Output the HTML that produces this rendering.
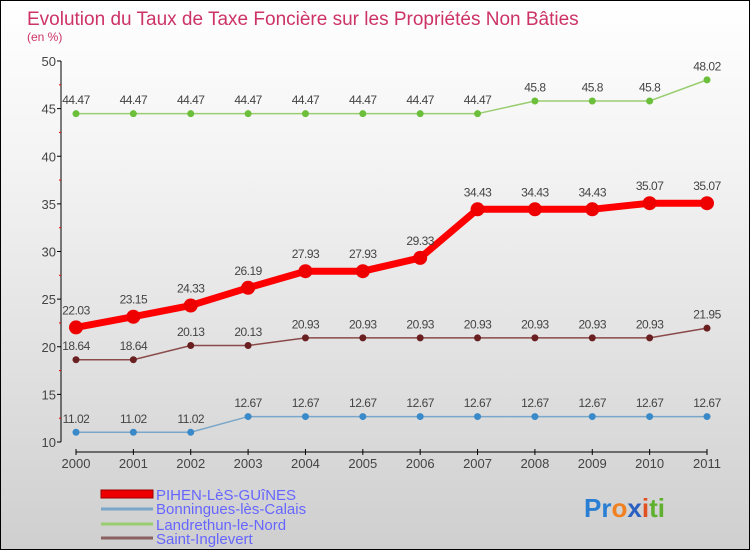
<!DOCTYPE html>
<html><head><meta charset="utf-8"><style>
body{margin:0}
#c{width:748px;height:548px;border:1px solid #000;background:linear-gradient(#fff,#f3f3f3 30%,#cfcfcf);position:relative;font-family:"Liberation Sans",sans-serif}
</style></head><body>
<div id="c">
<svg id="s" width="748" height="548" style="position:absolute;left:0;top:0" font-family="Liberation Sans, sans-serif">
<text x="26" y="24" font-size="19" fill="#cc3366">Evolution du Taux de Taxe Foncière sur les Propriétés Non Bâties</text>
<text x="26" y="40" font-size="12" fill="#cc3366">(en %)</text>
<g id="axes"></g><g id="series"></g>
<g>
<rect x="100" y="489" width="52" height="8" fill="#e00" stroke="#900" stroke-width="1"/>
<text x="155" y="499" font-size="15" fill="#6666ff">PIHEN-LèS-GUîNES</text>
<line x1="100" y1="508" x2="152" y2="508" stroke="#79a6c9" stroke-width="3"/>
<text x="155" y="513" font-size="15" fill="#6666ff">Bonningues-lès-Calais</text>
<line x1="100" y1="523" x2="152" y2="523" stroke="#9acd70" stroke-width="3"/>
<text x="155" y="529" font-size="15" fill="#6666ff">Landrethun-le-Nord</text>
<line x1="100" y1="537" x2="152" y2="537" stroke="#8a6060" stroke-width="3"/>
<text x="155" y="543" font-size="15" fill="#6666ff">Saint-Inglevert</text>
</g>
<text x="583" y="516" font-size="26" font-weight="bold"><tspan fill="#2a7fd4">Pr</tspan><tspan fill="#f08020">o</tspan><tspan fill="#2a60c0">x</tspan><tspan fill="#e05020">i</tspan><tspan fill="#60b030">ti</tspan></text>
</svg></div>
<script>
const years=["2000","2001","2002","2003","2004","2005","2006","2007","2008","2009","2010","2011"];
const yTicks=[10,15,20,25,30,35,40,45,50];
const pihen=[22.03,23.15,24.33,26.19,27.93,27.93,29.33,34.43,34.43,34.43,35.07,35.07];
const bonn=[11.02,11.02,11.02,12.67,12.67,12.67,12.67,12.67,12.67,12.67,12.67,12.67];
const land=[44.47,44.47,44.47,44.47,44.47,44.47,44.47,44.47,45.8,45.8,45.8,48.02];
const saint=[18.64,18.64,20.13,20.13,20.93,20.93,20.93,20.93,20.93,20.93,20.93,21.95];
const NS="http://www.w3.org/2000/svg";
const X=i=>75+i*(631/11), Y=v=>441-(v-10)*9.525;
function el(t,a,p){const e=document.createElementNS(NS,t);for(const k in a)e.setAttribute(k,a[k]);p.appendChild(e);return e;}
const ax=document.getElementById('axes');
const yl=el('line',{x1:60,y1:60,x2:60,y2:441,stroke:'#000'},ax);


yTicks.forEach(v=>{el('line',{x1:56,x2:60,y1:Y(v),y2:Y(v),stroke:'#000'},ax);
if(v<50)el('line',{x1:58,x2:60,y1:Y(v+2.5),y2:Y(v+2.5),stroke:'#e00'},ax);
const t=el('text',{x:55,y:Y(v)+5,'font-size':13,fill:'#444','text-anchor':'end'},ax);t.textContent=v;

});
el('line',{x1:75,x2:706,y1:451,y2:451,stroke:'#000'},ax);
years.forEach((y,i)=>{el('line',{x1:X(i),x2:X(i),y1:448,y2:454,stroke:'#000'},ax);
const t=el('text',{x:X(i),y:467,'font-size':13,fill:'#444','text-anchor':'middle'},ax);t.textContent=y;

});
const sg=document.getElementById('series');
function series(d,name,col,dot,w,r){
const g=el('g',{},sg);


el('polyline',{points:d.map((v,i)=>X(i)+','+Y(v)).join(' '),fill:'none',stroke:col,'stroke-width':w},g);
d.forEach((v,i)=>{const c=el('circle',{cx:X(i),cy:Y(v),r:r,fill:dot},g);


const t=el('text',{x:X(i),y:Y(v)-(r+6),'font-size':12,fill:'#444','text-anchor':'middle','letter-spacing':'-0.5'},g);t.textContent=v;

});}
series(land,'landrethun-line','#9acd70','#6bbf3a',1.5,3.5);
series(bonn,'bonningues-line','#79a6c9','#3a8ac9',1.5,3.5);
series(saint,'saint-inglevert-line','#8a4a4a','#6a2020',1.5,3.5);
series(pihen,'pihen-line','#f00','#e00',7,7);
</script>
</body></html>
